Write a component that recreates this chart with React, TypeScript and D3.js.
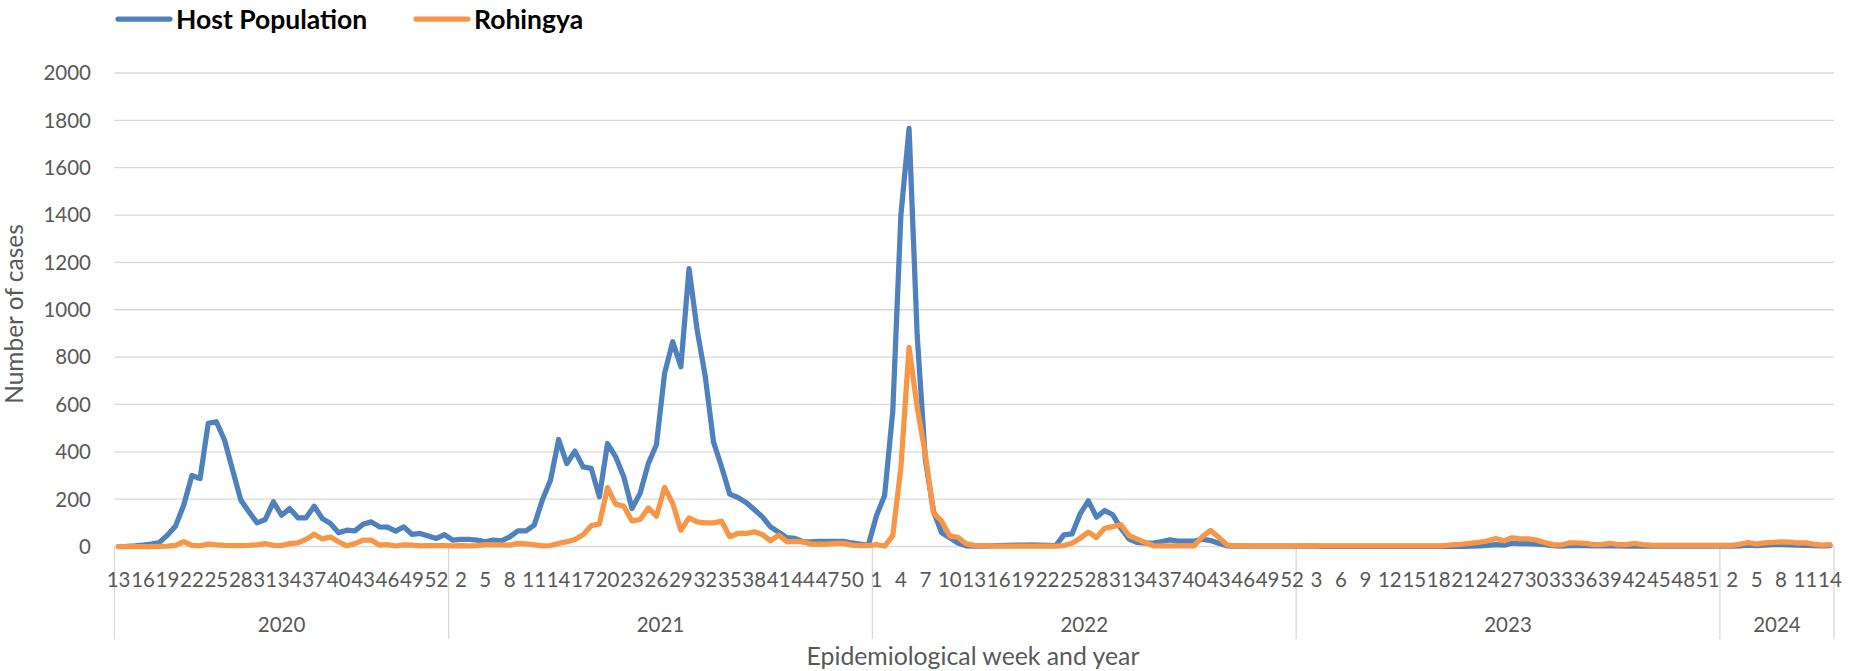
import React, { useEffect, useRef } from "react";
import * as d3 from "d3";

// epi weeks covered per year
const years = [2020, 2021, 2022, 2023, 2024];
const firstWeek = [13, 1, 1, 1, 1];
const lastWeek = [53, 52, 52, 52, 14];

const host2020 = [
  0, 1, 3, 6, 10, 17, 48, 87, 175, 300, 287, 520, 527, 450, 322, 196, 146, 100, 114, 189,
  132, 160, 121, 121, 170, 118, 97, 58, 69, 66, 94, 104, 83, 82, 65, 83, 51, 55, 44, 34, 50,
];
const host2021 = [
  27, 30, 30, 27, 20, 27, 24, 41, 66, 66, 90, 196, 280, 452, 350, 403, 336, 330, 210, 435,
  379, 294, 160, 225, 350, 430, 731, 865, 759, 1174, 914, 717, 442, 336, 221, 207, 186, 156, 125, 83,
  60, 37, 34, 20, 20, 22, 22, 22, 22, 15, 10, 5,
];
const host2022 = [
  130, 215, 570, 1400, 1766, 890, 367, 149, 58, 37, 15, 3, 2, 2, 3, 4, 5, 6, 6, 7,
  6, 5, 4, 49, 53, 138, 193, 124, 152, 134, 77, 31, 17, 14, 14, 21, 28, 23, 23, 23,
  31, 25, 14, 3, 2, 2, 2, 2, 2, 2, 2, 2,
];
const host2023 = [
  2, 2, 2, 1, 1, 1, 1, 1, 1, 1, 1, 1, 1, 1, 1, 1, 1, 1, 1, 1,
  1, 2, 3, 5, 8, 6, 14, 12, 12, 10, 8, 4, 2, 4, 5, 4, 3, 4, 3, 3,
  2, 3, 2, 2, 2, 2, 2, 2, 2, 2, 2, 2,
];
const host2024 = [2, 2, 3, 6, 4, 6, 8, 8, 7, 6, 5, 4, 3, 4];

const rohingya2020 = [
  0, 0, 0, 0, 0, 1, 2, 5, 20, 5, 3, 10, 7, 5, 4, 4, 5, 7, 12, 5,
  4, 12, 15, 30, 52, 32, 40, 20, 3, 12, 27, 27, 6, 8, 2, 7, 6, 3, 4, 4, 4,
];
const rohingya2021 = [
  3, 4, 3, 4, 8, 7, 7, 6, 13, 11, 7, 3, 4, 13, 20, 30, 50, 88, 95, 249,
  179, 170, 108, 114, 163, 128, 249, 182, 69, 121, 104, 100, 100, 107, 41, 55, 55, 62, 51, 24,
  48, 20, 22, 20, 10, 10, 10, 13, 13, 6, 4, 4,
];
const rohingya2022 = [
  8, 2, 46, 334, 841, 588, 389, 142, 107, 44, 39, 11, 5, 4, 3, 2, 2, 2, 2, 2,
  2, 2, 2, 4, 14, 35, 61, 38, 77, 84, 92, 46, 31, 17, 3, 3, 3, 3, 3, 3,
  42, 68, 39, 7, 3, 3, 2, 2, 2, 2, 2, 2,
];
const rohingya2023 = [
  3, 3, 3, 3, 3, 3, 3, 3, 3, 3, 3, 3, 3, 3, 3, 3, 3, 3, 5, 8,
  10, 14, 18, 24, 34, 24, 37, 32, 32, 27, 17, 8, 6, 15, 15, 13, 8, 8, 13, 8,
  8, 13, 8, 6, 5, 5, 5, 5, 5, 5, 5, 5,
];
const rohingya2024 = [5, 5, 10, 17, 10, 15, 17, 20, 18, 15, 15, 10, 6, 8];

const hostValues = [...host2020, ...host2021, ...host2022, ...host2023, ...host2024];
const rohingyaValues = [
  ...rohingya2020, ...rohingya2021, ...rohingya2022, ...rohingya2023, ...rohingya2024,
];

const yTicks = [0, 200, 400, 600, 800, 1000, 1200, 1400, 1600, 1800, 2000];

const seriesNames = ["Host Population", "Rohingya"];
const seriesColors = ["#4F81BD", "#F79646"];

interface Week {
  key: string;
  year: number;
  week: number;
}

export default function App() {
  const svgRef = useRef<SVGSVGElement>(null);

  useEffect(() => {
    const width = 1854;
    const height = 671;
    const left = 114.5;
    const right = 1834;
    const top = 73;
    const bottom = 546.5;
    const font = "Lato, 'Open Sans', sans-serif";
    const textColor = "#595959";
    const gridColor = "#D9D9D9";

    const weeks: Week[] = [];
    years.forEach((y, k) => {
      for (let w = firstWeek[k]; w <= lastWeek[k]; w++) {
        weeks.push({ key: `${y}-${w}`, year: y, week: w });
      }
    });

    const svg = d3.select(svgRef.current);
    svg.selectAll("*").remove();
    svg.attr("width", width).attr("height", height);

    const x = d3
      .scaleBand<string>()
      .domain(weeks.map((d) => d.key))
      .range([left, right])
      .padding(0);
    const y = d3.scaleLinear().domain([0, 2000]).range([bottom, top]);
    const cx = (i: number) => (x(weeks[i].key) as number) + x.bandwidth() / 2;

    // gridlines
    svg
      .append("g")
      .selectAll("line")
      .data(yTicks)
      .join("line")
      .attr("x1", left)
      .attr("x2", right)
      .attr("y1", (d) => y(d))
      .attr("y2", (d) => y(d))
      .attr("stroke", gridColor)
      .attr("stroke-width", 1.3);

    // y tick labels
    svg
      .append("g")
      .selectAll("text")
      .data(yTicks)
      .join("text")
      .attr("x", 91)
      .attr("y", (d) => y(d))
      .attr("dy", "0.36em")
      .attr("text-anchor", "end")
      .attr("font-family", font)
      .attr("font-size", 20.5)
      .attr("fill", textColor)
      .text((d) => d);

    // year group separators
    const yearStarts = years.map((yr) => x(weeks.find((w) => w.year === yr)!.key) as number);
    svg
      .append("g")
      .selectAll("line")
      .data([...yearStarts, right])
      .join("line")
      .attr("x1", (d) => d)
      .attr("x2", (d) => d)
      .attr("y1", bottom)
      .attr("y2", 639)
      .attr("stroke", gridColor)
      .attr("stroke-width", 1.3);

    // week labels, every third category
    svg
      .append("g")
      .selectAll("text")
      .data(weeks.filter((_, i) => i % 3 === 0))
      .join("text")
      .attr("x", (d) => (x(d.key) as number) + x.bandwidth() / 2)
      .attr("y", 580)
      .attr("dy", "0.36em")
      .attr("text-anchor", "middle")
      .attr("font-family", font)
      .attr("font-size", 20.5)
      .attr("fill", textColor)
      .text((d) => d.week);

    // year labels
    const yearEnds = [...yearStarts.slice(1), right];
    svg
      .append("g")
      .selectAll("text")
      .data(years)
      .join("text")
      .attr("x", (_, k) => (yearStarts[k] + yearEnds[k]) / 2)
      .attr("y", 625)
      .attr("dy", "0.36em")
      .attr("text-anchor", "middle")
      .attr("font-family", font)
      .attr("font-size", 20.5)
      .attr("fill", textColor)
      .text((d) => d);

    // axis titles
    svg
      .append("text")
      .attr("x", 973)
      .attr("y", 656)
      .attr("dy", "0.36em")
      .attr("text-anchor", "middle")
      .attr("font-family", font)
      .attr("font-size", 24.8)
      .attr("fill", textColor)
      .text("Epidemiological week and year");

    svg
      .append("text")
      .attr("transform", `translate(14,314) rotate(-90)`)
      .attr("dy", "0.36em")
      .attr("text-anchor", "middle")
      .attr("font-family", font)
      .attr("font-size", 24.5)
      .attr("fill", textColor)
      .text("Number of cases");

    // lines
    const line = d3
      .line<number>()
      .x((_, i) => cx(i))
      .y((d) => y(d));

    [hostValues, rohingyaValues].forEach((vals, k) => {
      svg
        .append("path")
        .datum(vals)
        .attr("d", line)
        .attr("fill", "none")
        .attr("stroke", seriesColors[k])
        .attr("stroke-width", 5.25)
        .attr("stroke-linejoin", "round")
        .attr("stroke-linecap", "round");
    });

    // legend
    const legendX = [118, 416];
    const legend = svg
      .append("g")
      .selectAll("g")
      .data(seriesNames)
      .join("g")
      .attr("transform", (_, k) => `translate(${legendX[k]},19)`);
    legend
      .append("line")
      .attr("x1", 0)
      .attr("x2", 52)
      .attr("stroke", (_, k) => seriesColors[k])
      .attr("stroke-width", 5.25)
      .attr("stroke-linecap", "round");
    legend
      .append("text")
      .attr("x", 58)
      .attr("dy", "0.36em")
      .attr("font-family", font)
      .attr("font-weight", "bold")
      .attr("font-size", 26.5)
      .attr("fill", "#000")
      .text((d) => d);
  }, []);

  return <svg ref={svgRef} style={{ position: "absolute", left: 0, top: 0 }} />;
}
